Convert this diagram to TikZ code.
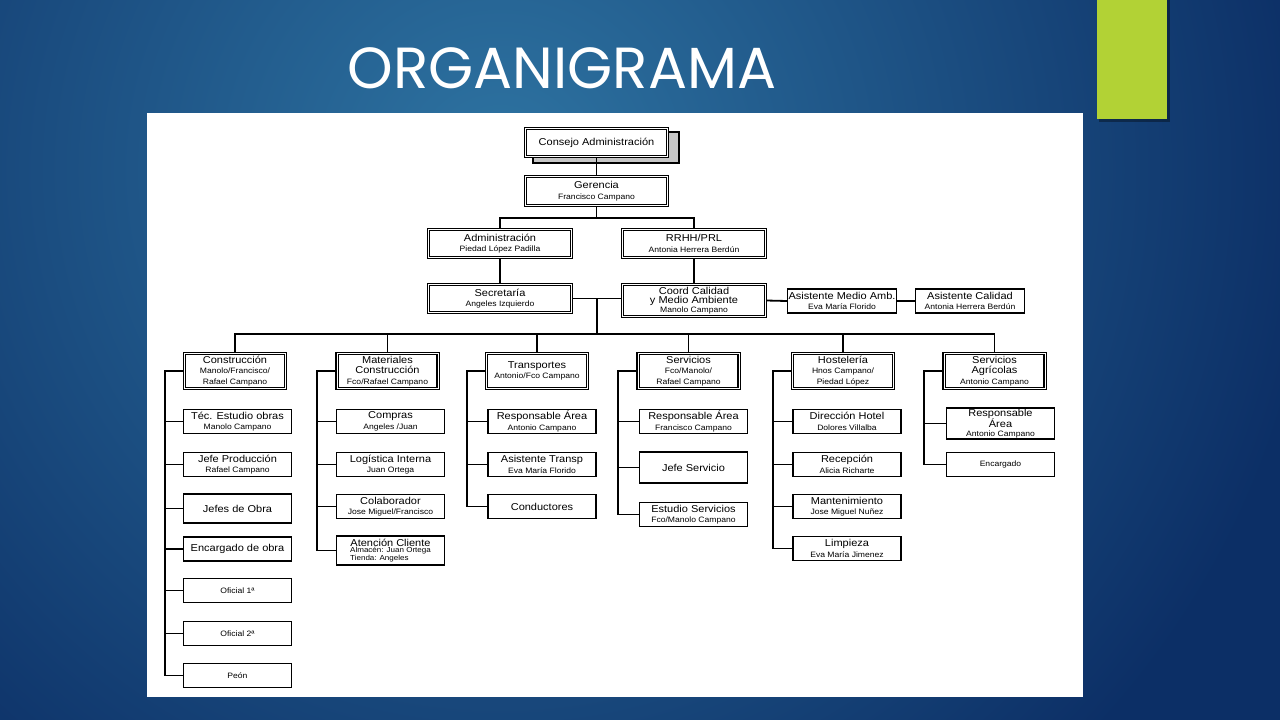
\documentclass[tikz,border=0pt]{standalone}
\usepackage{fontspec}
\usepackage{tikz}
\newfontfamily\titlefont{Poppins}
\newfontfamily\boxfont[FakeStretch=1.1]{Liberation Sans}
\newcommand{\persona}[1]{{\fontsize{7.8}{8.5}\selectfont #1}}
\definecolor{fondoA}{HTML}{2E74A2}
\definecolor{fondoB}{HTML}{0C2F66}
\definecolor{verde}{HTML}{B2D235}

\begin{document}
\begin{tikzpicture}[x=1pt, y=-1pt,
    box/.style={draw, line width=1.4pt, fill=white, inner sep=1pt, align=center,
      font=\boxfont\fontsize{10}{10.5}\selectfont},
    head/.style={box, line width=1.4pt, double, double distance=0.9pt},
    depto/.style={head, minimum width=101, minimum height=35},
    hijo/.style={box, minimum width=108, minimum height=24},
    linea/.style={line width=1.8pt}]

    \useasboundingbox (0,0) rectangle (1280,720);

    \fill [fondoB] (0,0) rectangle (1280,720);

    \begin{scope}
      \clip (0,0) rectangle (1280,720);
      \shade [inner color=fondoA, outer color=fondoB] (500,170) circle (820);
    \end{scope}

    \fill [black, opacity=0.35] (1099,0) rectangle (1170,122);
    \fill [verde] (1097,0) rectangle (1167,119);

    \node [anchor=base, text=white, font=\titlefont\fontsize{58}{60}\selectfont]
    (titulo) at (562,88) {ORGANIGRAMA};

    \fill [white] (147,113) rectangle (1083,697);


    \draw [fill=gray!45, line width=1.2pt] (533,132) rectangle (679,163);

    \node [head, minimum width=142, minimum height=28] (cons) at (596.5,142.5)
    {Consejo Administración};

    \node [head, minimum width=142, minimum height=29] (ger) at (596.5,191)
    {Gerencia\\\persona{Francisco Campano}};

    \node [head, minimum width=143, minimum height=28] (adm) at (500,243.5)
    {Administración\\\persona{Piedad López Padilla}};

    \node [head, minimum width=143, minimum height=28] (rrhh) at (694,243.5)
    {RRHH/PRL\\\persona{Antonia Herrera Berdún}};

    \node [head, minimum width=143, minimum height=28] (sec) at (500,298.5)
    {Secretaría\\\persona{Angeles Izquierdo}};

    \node [head, minimum width=143, minimum height=32] (coord) at (694,300.5)
    {Coord Calidad\\[-1.5pt]y Medio Ambiente\\[-1.5pt]\persona{Manolo Campano}};

    \node [box, minimum width=109, minimum height=24] (asma) at (842,301)
    {Asistente Medio Amb.\\\persona{Eva María Florido}};

    \node [box, minimum width=109, minimum height=24] (ascal) at (970,301)
    {Asistente Calidad\\\persona{Antonia Herrera Berdún}};


    \node [depto] (constr) at (235,371)
    {Construcción\\\persona{Manolo/Francisco/}\\\persona{Rafael Campano}};

    \node [depto] (mat) at (387.5,371)
    {Materiales\\Construcción\\\persona{Fco/Rafael Campano}};

    \node [depto] (trans) at (537,371)
    {Transportes\\\persona{Antonio/Fco Campano}};

    \node [depto] (serv) at (688.5,371)
    {Servicios\\\persona{Fco/Manolo/}\\\persona{Rafael Campano}};

    \node [depto] (host) at (843,371)
    {Hostelería\\\persona{Hnos Campano/}\\\persona{Piedad López}};

    \node [depto] (agr) at (994.5,371)
    {Servicios\\Agrícolas\\\persona{Antonio Campano}};


    \node [hijo] (c1) at (237.5,421.5) {Téc. Estudio obras\\\persona{Manolo Campano}};
    \node [hijo] (c2) at (237.5,464.5) {Jefe Producción\\\persona{Rafael Campano}};
    \node [hijo, minimum height=29] (c3) at (237.5,508.5) {Jefes de Obra};
    \node [hijo] (c4) at (237.5,549) {Encargado de obra};
    \node [hijo] (c5) at (237.5,590.5) {\persona{Oficial 1ª}};
    \node [hijo] (c6) at (237.5,633.5) {\persona{Oficial 2ª}};
    \node [hijo] (c7) at (237.5,675.5) {\persona{Peón}};

    \node [hijo] (m1) at (390.5,421.5) {Compras\\\persona{Angeles /Juan}};
    \node [hijo] (m2) at (390.5,464.5) {Logística Interna\\\persona{Juan Ortega}};
    \node [hijo] (m3) at (390.5,506.5) {Colaborador\\\persona{Jose Miguel/Francisco}};
    \node [hijo, minimum height=29] (m4) at (390.5,550.5)
    {Atención Cliente\\{\fontsize{7.3}{7.3}\selectfont\begin{tabular}{@{}l@{}}Almacén: Juan Ortega\\Tienda: Angeles\end{tabular}}};

    \node [hijo] (t1) at (542,421.5) {Responsable Área\\\persona{Antonio Campano}};
    \node [hijo] (t2) at (542,464.5) {Asistente Transp\\\persona{Eva María Florido}};
    \node [hijo] (t3) at (542,506.5) {Conductores};

    \node [hijo] (s1) at (693.5,421.5) {Responsable Área\\\persona{Francisco Campano}};
    \node [hijo, minimum height=31] (s2) at (693.5,467.5) {Jefe Servicio};
    \node [hijo] (s3) at (693.5,514.5) {Estudio Servicios\\\persona{Fco/Manolo Campano}};

    \node [hijo] (h1) at (847,421.5) {Dirección Hotel\\\persona{Dolores Villalba}};
    \node [hijo] (h2) at (847,464.5) {Recepción\\\persona{Alicia Richarte}};
    \node [hijo] (h3) at (847,506.5) {Mantenimiento\\\persona{Jose Miguel Nuñez}};
    \node [hijo] (h4) at (847,548.5) {Limpieza\\\persona{Eva María Jimenez}};

    \node [hijo, minimum height=29] (a1) at (1000.5,423.5)
    {Responsable\\[-1pt]Área\\[-1.5pt]\persona{Antonio Campano}};
    \node [hijo] (a2) at (1000.5,464.5) {\persona{Encargado}};


    \draw [linea] (cons) -- (ger);

    \draw [linea] (ger.south) -- ++(0,12) coordinate (gerB);

    \draw [linea] (adm.north) |- (gerB) -| (rrhh.north);

    \draw [linea] (adm) -- (sec);

    \draw [linea] (rrhh) -- (coord);

    \draw [linea] (sec.east) -- (sec.east -| coord.west);

    \draw [linea] (coord.east) -- (asma.west);

    \draw [linea] (asma) -- (ascal);

    \coordinate (bus) at (597,334);

    \draw [linea] (sec.east -| bus) -- (bus);

    \draw [linea] (constr.north) |- (bus) -| (agr.north);

    \foreach \d in {mat, trans, serv, host}
    \draw [linea] (\d.north) -- (\d.north |- bus);

    \foreach \d/\p/\n in {constr/c/7, mat/m/4, trans/t/3, serv/s/3, host/h/4, agr/a/2} {
      \draw [linea] (\d.west) -- ++(-19,0) coordinate (sp) |- (\p\n.west);
      \foreach \i in {1,...,\n}
      \draw [linea] (\p\i.west) -- (\p\i.west -| sp);
    }

  \end{tikzpicture}
\end{document}
